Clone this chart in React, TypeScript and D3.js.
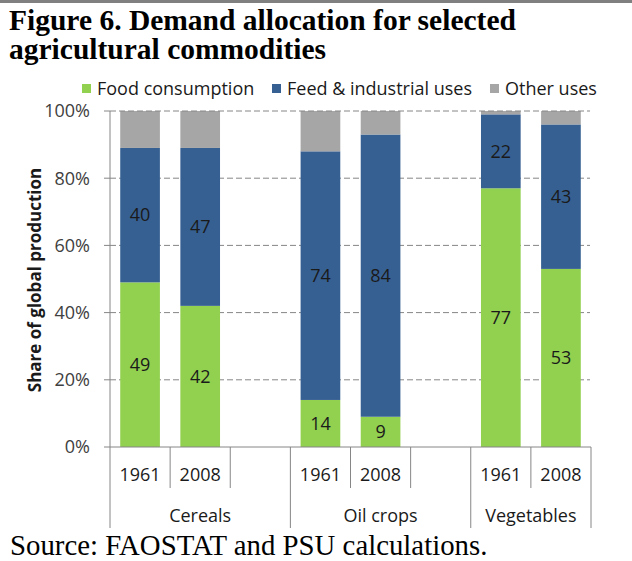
import * as d3 from "d3"

const groups = ["Cereals", "Oil crops", "Vegetables"]
const slotLabels = ["1961", "2008", "", "1961", "2008", "", "1961", "2008"]
const barSlots = [0, 1, 3, 4, 6, 7]
const food = [49, 42, 14, 9, 77, 53]
const feed = [40, 47, 74, 84, 22, 43]
const other = [11, 11, 12, 7, 1, 4]
const seriesNames = ["Food consumption", "Feed & industrial uses", "Other uses"]
const yTicks = [0, 20, 40, 60, 80, 100]

const colors = ["#92d050", "#376092", "#a6a6a6"]
const sans = "'Open Sans', sans-serif"
const serif = "'Liberation Serif', 'Times New Roman', serif"

const App = () => {
  const W = 632
  const H = 561
  const left = 110
  const right = 591
  const top = 111
  const base = 447

  const x = d3
    .scaleBand<number>()
    .domain(d3.range(slotLabels.length))
    .range([left, right])
    .padding(0)
  const y = d3.scaleLinear().domain([0, 100]).range([base, top])
  const bw = x.bandwidth() * 0.66

  const rows = barSlots.map((s, i) => ({ slot: s, food: food[i], feed: feed[i], other: other[i] }))
  const stacked = d3.stack<any>().keys(["food", "feed", "other"])(rows)

  // group spans in slots
  const groupSpans = [
    [0, 3],
    [3, 6],
    [6, 8],
  ]

  const legendX = [97, 287, 505]

  return (
    <div style={{ position: "absolute", left: 0, top: 0 }}>
      <svg width={W} height={H} style={{ display: "block", background: "#fff" }}>
        <rect x={0} y={0} width={W} height={3} fill="#808080" />
        <g fontFamily={serif} fontWeight="bold" fontSize={29.5} fill="#000">
          <text x={9} y={30}>Figure 6. Demand allocation for selected</text>
          <text x={9} y={59}>agricultural commodities</text>
        </g>

        {/* legend */}
        <g fontFamily={sans} fontSize={18} fill="#1a1a1a">
          {seriesNames.map((n, i) => (
            <g key={n}>
              <rect x={legendX[i] - 15} y={84} width={9} height={9} fill={colors[i]} />
              <text x={legendX[i]} y={89} dy="0.35em">
                {n}
              </text>
            </g>
          ))}
        </g>

        {/* gridlines */}
        {yTicks
          .filter((t) => t > 0 && t < 100)
          .map((t) => (
            <line
              key={t}
              x1={left}
              x2={right - 1}
              y1={y(t)}
              y2={y(t)}
              stroke="#868686"
              strokeDasharray="6,3"
            />
          ))}

        {/* bars */}
        {stacked.map((layer, li) =>
          layer.map((d: any, i) => (
            <rect
              key={li + "-" + i}
              x={x(d.data.slot)! + (x.bandwidth() - bw) / 2}
              y={y(d[1])}
              width={bw}
              height={y(d[0]) - y(d[1])}
              fill={colors[li]}
            />
          ))
        )}
        <line
          x1={left}
          x2={right - 1}
          y1={y(100)}
          y2={y(100)}
          stroke="#868686"
          strokeDasharray="6,3"
        />

        {/* value labels */}
        <g fontFamily={sans} fontSize={18} fill="#1a1a1a" textAnchor="middle">
          {stacked.slice(0, 2).map((layer, li) =>
            layer.map((d: any, i) => (
              <text
                key={li + "-" + i}
                x={x(d.data.slot)! + x.bandwidth() / 2}
                y={y((d[0] + d[1]) / 2)}
                dy="0.35em"
              >
                {d[1] - d[0]}
              </text>
            ))
          )}
        </g>

        {/* y axis */}
        <line x1={left} x2={left} y1={top} y2={base} stroke="#868686" />
        {yTicks.map((t) => (
          <g key={t}>
            <line x1={left - 6} x2={left} y1={y(t)} y2={y(t)} stroke="#868686" />
            <text
              x={90}
              y={y(t)}
              dy="0.35em"
              textAnchor="end"
              fontFamily={sans}
              fontSize={18}
              fill="#404040"
            >
              {t + "%"}
            </text>
          </g>
        ))}
        <text
          transform={`translate(35,${(top + base) / 2 + 1}) rotate(-90)`}
          textAnchor="middle"
          dy="0.35em"
          fontFamily={sans}
          fontWeight="bold"
          fontSize={17}
          fill="#1a1a1a"
        >
          Share of global production
        </text>

        {/* x axis */}
        <line x1={left} x2={right} y1={base} y2={base} stroke="#868686" />
        {d3.range(slotLabels.length + 1).map((b) => {
          const bx = b === slotLabels.length ? right : x(b)!
          const long = b === 0 || b === 3 || b === 6 || b === 8
          return <line key={b} x1={bx} x2={bx} y1={base} y2={long ? 528 : 488} stroke="#868686" />
        })}
        <g fontFamily={sans} fontSize={18} fill="#1a1a1a" textAnchor="middle">
          {slotLabels.map((l, i) => (
            <text key={i} x={x(i)! + x.bandwidth() / 2} y={475} dy="0.35em">
              {l}
            </text>
          ))}
          {groups.map((g, i) => {
            const a = x(groupSpans[i][0])!
            const b = groupSpans[i][1] === slotLabels.length ? right : x(groupSpans[i][1])!
            return (
              <text key={g} x={(a + b) / 2} y={516} dy="0.35em">
                {g}
              </text>
            )
          })}
        </g>

        <text x={10} y={555} fontFamily={serif} fontSize={28.8} fill="#000">
          Source: FAOSTAT and PSU calculations.
        </text>
      </svg>
    </div>
  )
}

export default App
